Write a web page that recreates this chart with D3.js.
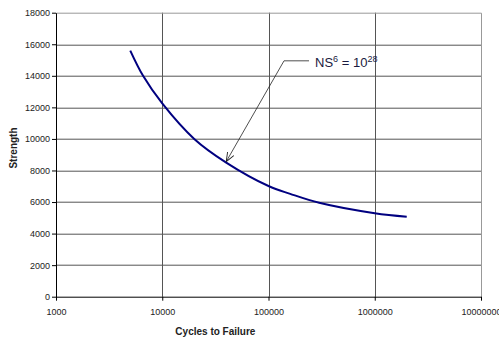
<!DOCTYPE html>
<html>
<head>
<meta charset="utf-8">
<script src="https://cdn.jsdelivr.net/npm/d3@7"></script>
<style>
	body { margin: 0; background: #fff; }
	svg { display: block; font-family: "Liberation Sans", Arial, sans-serif; }
</style>
</head>
<body>
<script>
// values
const cycles = [5000, 6600, 10000, 20000, 40000, 100000, 160000, 300000, 1000000, 2000000]
const strength = [15600, 14000, 12250, 10000, 8500, 7015, 6520, 5950, 5290, 5070]
const xTicks = [1000, 10000, 100000, 1000000, 10000000]
const yTicks = [0, 2000, 4000, 6000, 8000, 10000, 12000, 14000, 16000, 18000]
const arrowTarget = [40000, 8500]
const labelAt = [140000, 14950]

const width = 499
const height = 340
const margins = { top: 12.7, left: 56, right: 18, bottom: 43.3 }
const bodyW = width - margins.left - margins.right
const bodyH = height - margins.top - margins.bottom

const svg = d3.select('body').append('svg').attr('width', width).attr('height', height)

const x = d3.scaleLog().domain([1000, 10000000]).range([0, bodyW])
const y = d3.scaleLinear().domain([0, 18000]).range([bodyH, 0])

const body = svg.append('g')
	.attr('transform', 'translate(' + margins.left + ',' + margins.top + ')')

// grid
body.append('g').selectAll('line').data(yTicks.slice(1, -1)).join('line')
	.attr('x1', 0).attr('x2', bodyW)
	.attr('y1', d => Math.round(y(d)) + 0.5).attr('y2', d => Math.round(y(d)) + 0.5)
	.attr('stroke', '#555')
body.append('g').selectAll('line').data(xTicks.slice(1, -1)).join('line')
	.attr('x1', d => Math.round(x(d)) + 0.5).attr('x2', d => Math.round(x(d)) + 0.5)
	.attr('y1', 0).attr('y2', bodyH)
	.attr('stroke', '#555')
// plot border (top / right)
body.append('path')
	.attr('d', 'M0.5,0.5H' + (Math.round(bodyW) + 0.5) + 'V' + bodyH)
	.attr('fill', 'none').attr('stroke', '#999')

// axes
const xAxis = body.append('g')
	.attr('transform', 'translate(0,' + bodyH + ')')
	.call(d3.axisBottom(x).tickValues(xTicks).tickFormat(d3.format('d')).tickSize(4).tickSizeOuter(0))
const yAxis = body.append('g')
	.call(d3.axisLeft(y).tickValues(yTicks).tickFormat(d3.format('d')).tickSize(4).tickSizeOuter(0))
for (const a of [xAxis, yAxis]) {
	a.select('.domain').attr('stroke', '#000')
	a.selectAll('.tick line').attr('stroke', '#000')
	a.selectAll('text').attr('font-size', 9).attr('fill', '#222')
		.attr('font-family', '"Liberation Sans", Arial, sans-serif')
}
xAxis.selectAll('text').attr('dy', '1.25em')
yAxis.selectAll('text').attr('x', -6)

// curve
const line = d3.line()
	.x((d, i) => x(cycles[i]))
	.y(d => y(d))
	.curve(d3.curveCatmullRom.alpha(0.5))
body.append('path')
	.datum(strength)
	.attr('d', line)
	.attr('fill', 'none')
	.attr('stroke', '#000080')
	.attr('stroke-width', 2)

// annotation
svg.append('defs').append('marker')
	.attr('id', 'arrow').attr('viewBox', '0 0 10 10')
	.attr('refX', 10).attr('refY', 5)
	.attr('markerWidth', 9).attr('markerHeight', 9)
	.attr('orient', 'auto-start-reverse').attr('markerUnits', 'userSpaceOnUse')
	.append('path')
	.attr('d', 'M0,1L10,5L0,9')
	.attr('fill', 'none').attr('stroke', '#222').attr('stroke-width', 1)

const lx = x(labelAt[0]), ly = y(labelAt[1])
body.append('path')
	.attr('d', 'M' + (lx + 25) + ',' + ly + 'H' + lx + 'L' + x(arrowTarget[0]) + ',' + (y(arrowTarget[1]) - 1))
	.attr('fill', 'none').attr('stroke', '#222').attr('stroke-width', 0.8)
	.attr('marker-end', 'url(#arrow)')

const label = body.append('text')
	.attr('x', lx + 31).attr('y', ly + 6)
	.attr('font-size', 13).attr('fill', '#1a1a40')
label.append('tspan').text('NS')
label.append('tspan').text('6').attr('font-size', 9).attr('dy', -5)
label.append('tspan').text(' = 10').attr('dy', 5)
label.append('tspan').text('28').attr('font-size', 9).attr('dy', -5)

// titles
svg.append('text')
	.attr('x', margins.left + x(31623)).attr('y', 335)
	.attr('text-anchor', 'middle')
	.attr('font-size', 10).attr('font-weight', 'bold').attr('fill', '#222')
	.text('Cycles to Failure')
svg.append('text')
	.attr('transform', 'translate(16.5,148) rotate(-90)')
	.attr('text-anchor', 'middle')
	.attr('font-size', 10).attr('font-weight', 'bold').attr('fill', '#222')
	.text('Strength')
</script>
</body>
</html>
